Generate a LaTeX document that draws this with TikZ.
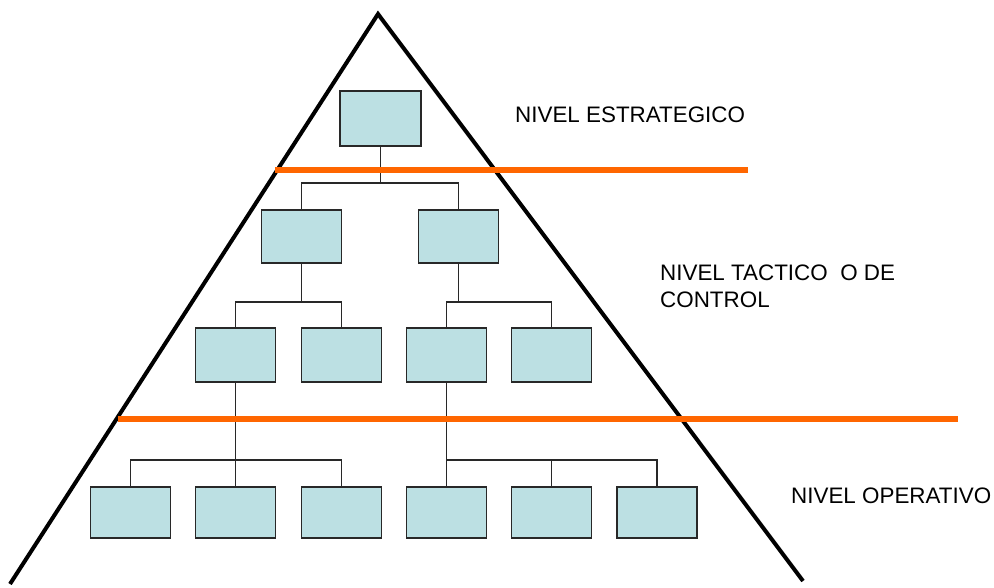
\documentclass[tikz,border=0pt]{standalone}
\usepackage{fontspec}
\setmainfont{Liberation Sans}
\definecolor{boxfill}{RGB}{188,224,227}
\definecolor{boxline}{RGB}{40,40,40}
\definecolor{levelline}{RGB}{255,102,0}
\begin{document}
\begin{tikzpicture}[x=1pt,y=-1pt,
  unit/.style={draw=boxline,fill=boxfill,line width=1.4pt,minimum width=80pt,minimum height=53pt,inner sep=0pt},
  link/.style={draw=boxline,line width=1.4pt},
  divider/.style={draw=levelline,line width=6pt},
  label/.style={anchor=base west,font=\fontsize{22.4}{27}\selectfont,inner sep=0pt,align=left}]
\useasboundingbox (0,0) rectangle (994,587);
% pyramid
\coordinate (pl) at (10,584);
\coordinate (pt) at (378,14);
\coordinate (pr) at (803,581);
\draw[line width=4pt] (pl) -- (pt) -- (pr);
% boxes
\node[unit,minimum width=81pt,minimum height=55pt] (top) at (380.5,118.5) {};
\node[unit] (La) at (301.5,236.5) {};
\node[unit] (Lb) at (458.5,236.5) {};
\node[unit,minimum height=54pt] (Ma) at (235.5,355) {};
\node[unit,minimum height=54pt] (Mb) at (341.5,355) {};
\node[unit,minimum height=54pt] (Mc) at (446.5,355) {};
\node[unit,minimum height=54pt] (Md) at (551.5,355) {};
\node[unit,minimum height=51pt] (Na) at (130.5,512.5) {};
\node[unit,minimum height=51pt] (Nb) at (235.5,512.5) {};
\node[unit,minimum height=51pt] (Nc) at (341.5,512.5) {};
\node[unit,minimum height=51pt] (Nd) at (446.5,512.5) {};
\node[unit,minimum height=51pt] (Ne) at (551.5,512.5) {};
\node[unit,minimum height=51pt] (Nf) at (657,512.5) {};
% connectors
\coordinate (b1) at (380.5,183);
\coordinate (b2) at (301.5,302);
\coordinate (b3) at (458.5,302);
\coordinate (b4) at (235.5,460);
\coordinate (b5) at (446.5,460);
\draw[link] (top.south) -- (b1);
\draw[link] (La.north) |- (b1) -| (Lb.north);
\draw[link] (La.south) -- (b2);
\draw[link] (Ma.north) |- (b2) -| (Mb.north);
\draw[link] (Lb.south) -- (b3);
\draw[link] (Mc.north) |- (b3) -| (Md.north);
\draw[link] (Ma.south) -- (Nb.north);
\draw[link] (Na.north) |- (b4) -| (Nc.north);
\draw[link] (Mc.south) -- (Nd.north);
\draw[link] (b5) -| (Nf.north);
\draw[link] (Ne.north) -- (Ne.north |- b5);
% level dividers
\coordinate (d1l) at (275,170);
\coordinate (d1r) at (748,170);
\coordinate (d2l) at (118,419);
\coordinate (d2r) at (958,419);
\draw[divider] (d1l) -- (d1r);
\draw[divider] (d2l) -- (d2r);
% labels
\node[label] (t1) at (515,122) {NIVEL ESTRATEGICO};
\node[label] (t2) at (660,307) {NIVEL TACTICO\ \ O DE\\CONTROL};
\node[label] (t3) at (791,503) {NIVEL OPERATIVO};
\end{tikzpicture}
\end{document}
